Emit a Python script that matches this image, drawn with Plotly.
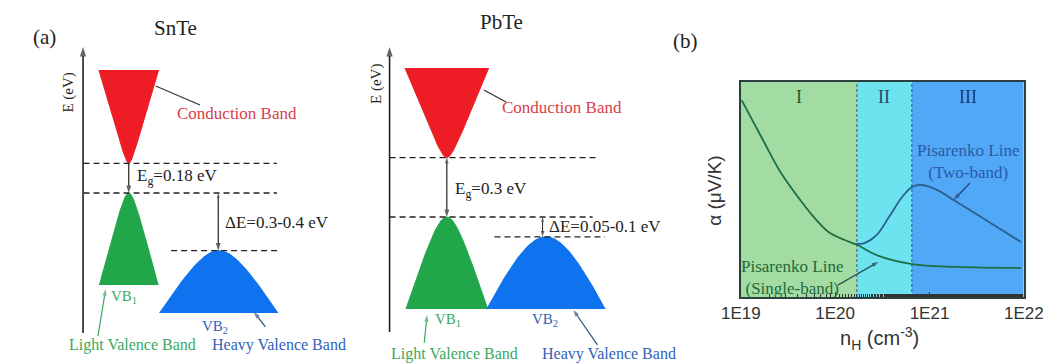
import numpy as np
import plotly.graph_objects as go

# ---------------- data ----------------
# band edges (eV, referenced to the light valence band maximum)
snte_eg = 0.18
snte_de = 0.35          # 0.3-0.4 eV
pbte_eg = 0.30
pbte_de = 0.10          # 0.05-0.1 eV

# Pisarenko curves: Hall carrier concentration (cm^-3) vs Seebeck (arb.)
single_n = [1.02e19, 1.76e19, 2.63e19, 3.89e19, 5.69e19, 8.51e19, 1.26e20,
            1.72e20, 2.75e20, 6.53e20, 1.95e21, 9.33e21]
single_s = [91.6, 72.1, 58.1, 47.4, 38.1, 30.2, 26.5, 24.2, 19.5, 15.3, 14.0, 13.5]
two_n = [1.64e20, 2.04e20, 2.75e20, 3.72e20, 5.13e20, 6.53e20, 8.32e20,
         1.20e21, 1.95e21, 4.27e21, 9.33e21]
two_s = [24.7, 25.1, 28.8, 37.2, 46.5, 51.2, 52.1, 49.8, 44.2, 34.9, 25.6]
region_edges = [1e19, 1.7e20, 6.5e20, 1e22]
region_names = ["I", "II", "III"]
tick_vals = [1e19, 1e20, 1e21, 1e22]
tick_text = ["1E19", "1E20", "1E21", "1E22"]

# ---------------- styles ----------------
W, H = 1064, 363
SERIF = "Liberation Serif"
SANS = "Liberation Sans"
RED, GREEN, BLUE = "#ee1c24", "#22a64a", "#0f72ee"
RED_T, GREEN_T, BLUE_T = "#d8404c", "#3aa860", "#2f62b8"
region_colors = ["#a3dca3", "#6de3f0", "#50a8f6"]
region_text = ["#1f5a2a", "#1e4a6a", "#1d3a6a"]

fig = go.Figure()


def band(center, edge, far, halfwidth, k0, color, ax):
    k = np.linspace(-halfwidth, halfwidth, 121)
    f = np.sqrt(k ** 2 + k0 ** 2) - k0
    f = f / f.max()
    e = edge + (far - edge) * f
    fig.add_trace(go.Scatter(x=center + k, y=e, mode="lines", fill="toself",
                             fillcolor=color, line=dict(color=color, width=1),
                             hoverinfo="skip", showlegend=False,
                             xaxis=ax[0], yaxis=ax[1]))


def dashed(e, k1, k2, ax):
    fig.add_trace(go.Scatter(x=[k1, k2], y=[e, e], mode="lines",
                             line=dict(color="#222", width=1.3, dash="6px,4px"),
                             hoverinfo="skip", showlegend=False,
                             xaxis=ax[0], yaxis=ax[1]))


def arrow(x0, y0, x1, y1, ax, color="#222", width=1.2, head=8):
    """Line from (x0, y0) to (x1, y1) with an arrowhead at the far end."""
    mode = "lines+markers" if head else "lines"
    fig.add_trace(go.Scatter(x=[x0, x1], y=[y0, y1], mode=mode,
                             line=dict(color=color, width=width),
                             marker=dict(symbol="arrow", size=[0, head], angleref="previous",
                                         color=color, line=dict(width=0)),
                             hoverinfo="skip", showlegend=False,
                             xaxis=ax[0], yaxis=ax[1]))


def double_arrow(x, y0, y1, ax, head_top=6, head_bottom=8, width=1.2):
    ym = 0.5 * (y0 + y1)
    arrow(x, ym, x, y0, ax, width=width, head=head_top)
    arrow(x, ym, x, y1, ax, width=width, head=head_bottom)


annotations = []


def text(t, x, y, xref, yref, color="#222", size=17, font=SERIF, xanchor="center", angle=0):
    annotations.append(dict(text=t, x=x, y=y, xref=xref, yref=yref, showarrow=False,
                            xanchor=xanchor, yanchor="middle", textangle=angle,
                            font=dict(family=font, size=size, color=color)))


# ---------------- SnTe ----------------
A = ("x2", "y2")
band(1.13, snte_eg, 0.746, 0.31, 0.03, RED, A)
band(1.13, 0.0, -0.558, 0.305, 0.06, GREEN, A)
band(2.065, -snte_de, -0.728, 0.615, 0.28, BLUE, A)
dashed(snte_eg, 0.66, 2.67, A)
dashed(0.0, 0.66, 2.67, A)
dashed(-snte_de, 1.57, 2.71, A)
arrow(0.655, -0.85, 0.655, 0.886, A, width=1.6, head=10)
arrow(1.13, snte_eg, 1.13, 0.0, A, width=1.2, head=8)
double_arrow(2.06, 0.0, -snte_de, A, head_top=5, head_bottom=8)
arrow(1.87, 0.534, 1.41, 0.649, A, color="#333", width=1.2, head=0)
arrow(0.81, -0.868, 0.89, -0.583, A, color=GREEN_T, width=1.2, head=7)
arrow(2.55, -0.813, 2.43, -0.722, A, color="#2f4f7f", width=1.2, head=7)
text("SnTe", 1.62, 1.0, "x2", "y2", size=21)
text("E (eV)", 0.50, 0.61, "x2", "y2", size=15, angle=-90)
text("Conduction Band", 2.25, 0.485, "x2", "y2", color=RED_T)
text("E<sub>g</sub>=%.2f eV" % snte_eg, 1.2, 0.097, "x2", "y2", xanchor="left")
text("ΔE=0.3-0.4 eV", 2.11, -0.176, "x2", "y2", xanchor="left")
text("VB<sub>1</sub>", 1.08, -0.631, "x2", "y2", color=GREEN_T, size=15)
text("VB<sub>2</sub>", 2.03, -0.813, "x2", "y2", color=BLUE_T, size=15)
text("Light Valence Band", 1.165, -0.92, "x2", "y2", color=GREEN_T, size=16)
text("Heavy Valence Band", 2.69, -0.92, "x2", "y2", color=BLUE_T, size=16)

# ---------------- PbTe ----------------
B = ("x3", "y3")
band(1.035, pbte_eg, 0.753, 0.435, 0.06, RED, B)
band(1.035, 0.0, -0.465, 0.425, 0.14, GREEN, B)
band(2.065, -pbte_de, -0.465, 0.615, 0.38, BLUE, B)
dashed(pbte_eg, 0.44, 2.58, B)
dashed(0.0, 0.44, 2.55, B)
dashed(-pbte_de, 1.53, 2.68, B)
arrow(0.44, -0.581, 0.44, 0.859, B, width=1.6, head=10)
double_arrow(1.035, pbte_eg, 0.0, B, head_top=6, head_bottom=8)
double_arrow(2.03, 0.0, -pbte_de, B, head_top=5, head_bottom=6, width=1.0)
arrow(1.65, 0.581, 1.42, 0.641, B, color="#333", width=1.2, head=0)
arrow(0.80, -0.636, 0.83, -0.495, B, color=GREEN_T, width=1.2, head=7)
arrow(2.60, -0.646, 2.35, -0.470, B, color="#2f4f7f", width=1.2, head=7)
text("PbTe", 1.60, 0.985, "x3", "y3", size=21)
text("E (eV)", 0.31, 0.672, "x3", "y3", size=15, angle=-90)
text("Conduction Band", 2.23, 0.551, "x3", "y3", color=RED_T)
text("E<sub>g</sub>=%.1f eV" % pbte_eg, 1.10, 0.136, "x3", "y3", xanchor="left")
text("ΔE=0.05-0.1 eV", 2.08, -0.05, "x3", "y3", xanchor="left")
text("VB<sub>1</sub>", 1.05, -0.52, "x3", "y3", color=GREEN_T, size=15)
text("VB<sub>2</sub>", 2.05, -0.52, "x3", "y3", color=BLUE_T, size=15)
text("Light Valence Band", 1.11, -0.69, "x3", "y3", color=GREEN_T, size=16)
text("Heavy Valence Band", 2.72, -0.69, "x3", "y3", color=BLUE_T, size=16)

# ---------------- panel (b): Pisarenko plot ----------------
P = ("x", "y")
for i in range(3):
    x0, x1 = region_edges[i], region_edges[i + 1]
    fig.add_trace(go.Scatter(x=[x0, x1, x1, x0, x0], y=[0, 0, 100, 100, 0], mode="lines",
                             fill="toself", fillcolor=region_colors[i],
                             line=dict(width=0), hoverinfo="skip", showlegend=False))
    xm = 0.5 * (np.log10(x0) + np.log10(x1))
    text(region_names[i], xm, 93, "x", "y", color=region_text[i], size=18)
for xb in region_edges[1:3]:
    fig.add_trace(go.Scatter(x=[xb, xb], y=[0, 100], mode="lines",
                             line=dict(color="#2d5a70", width=1, dash="3px,2px"),
                             hoverinfo="skip", showlegend=False))
fig.add_trace(go.Scatter(x=single_n, y=single_s, mode="lines", line_shape="spline",
                         line=dict(color="#1e6e48", width=1.8), showlegend=False))
fig.add_trace(go.Scatter(x=two_n, y=two_s, mode="lines", line_shape="spline",
                         line=dict(color="#2a5f8f", width=1.8), showlegend=False))
text("Pisarenko Line<br>(Two-band)", 21.408, 62.8, "x", "y", color="#2a5aa8")
text("Pisarenko Line<br>(Single-band)", 19.541, 9.3, "x", "y", color="#1f6b3c")
arrow(10 ** 21.429, 53.0, 10 ** 21.255, 45.1, P, color="#1f3f6f", width=1.2, head=7)
arrow(10 ** 20.031, 5.6, 10 ** 20.459, 16.3, P, color="#1f3f3f", width=1.2, head=7)

text("(a)", 25 / W, 1 - 37 / H, "paper", "paper", size=21)
text("(b)", 692 / W, 1 - 41 / H, "paper", "paper", size=21)
text("α (μV/K)", 722 / W, 1 - 190 / H, "paper", "paper", size=19, font=SANS,
     color="#333", angle=-90)
text("n<sub>H</sub> (cm<sup>-3</sup>)", 893 / W, 1 - 338 / H, "paper", "paper",
     size=20, font=SANS, color="#333")

hidden = dict(visible=False, fixedrange=True)
fig.update_layout(
    width=W, height=H, margin=dict(l=0, r=0, t=0, b=0),
    paper_bgcolor="white", plot_bgcolor="white", showlegend=False,
    annotations=annotations,
    xaxis=dict(type="log", range=[19, 22], domain=[749 / W, 1043 / W],
               tickmode="array", tickvals=tick_vals, ticktext=tick_text,
               ticks="inside", ticklen=5, tickcolor="#333",
               minor=dict(ticks="inside", ticklen=3, tickcolor="#333"),
               tickfont=dict(family=SANS, size=17, color="#333"),
               showline=True, mirror=True, linecolor="#2b3f3f", linewidth=2,
               showgrid=False, zeroline=False, anchor="y"),
    yaxis=dict(range=[0, 100], domain=[1 - 297 / H, 1 - 82 / H], showticklabels=False,
               ticks="", showline=True, mirror=True, linecolor="#2b3f3f", linewidth=2,
               showgrid=False, zeroline=False, anchor="x"),
    xaxis2=dict(range=[0, 3.4], domain=[0, 340 / W], anchor="y2", **hidden),
    yaxis2=dict(range=[-(H - 193) / 164.8, 193 / 164.8], domain=[0, 1], anchor="x2", **hidden),
    xaxis3=dict(range=[0, 3.4], domain=[340 / W, 680 / W], anchor="y3", **hidden),
    yaxis3=dict(range=[-(H - 217) / 198.0, 217 / 198.0], domain=[0, 1], anchor="x3", **hidden),
)

fig.write_html("out.html")
